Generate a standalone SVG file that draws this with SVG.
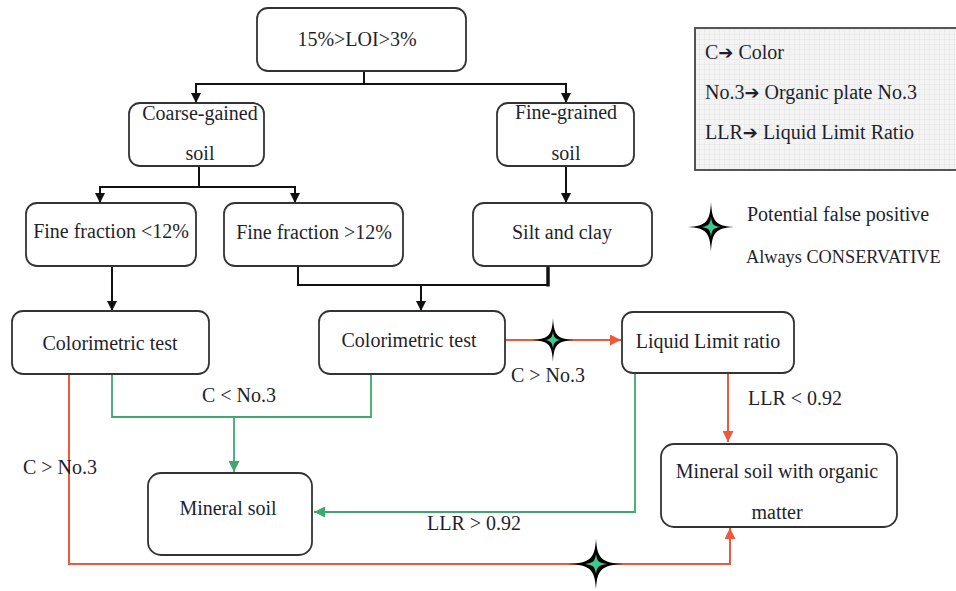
<svg xmlns="http://www.w3.org/2000/svg" width="956" height="591" viewBox="0 0 956 591">
<style>
.box{fill:#fff;stroke:#333;stroke-width:1.8}
.t{font-family:"Liberation Serif","Times New Roman",serif;font-size:20px;fill:#1f1f2e;text-anchor:middle}
.tl{font-family:"Liberation Serif","Times New Roman",serif;font-size:20px;fill:#1f1f2e}
.ar{font-family:"DejaVu Sans",sans-serif;font-size:18px;font-weight:bold}
.k{fill:none;stroke:#111;stroke-width:2}
.r{fill:none;stroke:#f0583a;stroke-width:2}
.g{fill:none;stroke:#3fa86c;stroke-width:1.8}
</style>
<defs>
<marker id="ak" viewBox="0 0 10 10" refX="10" refY="5" markerWidth="10" markerHeight="12" markerUnits="userSpaceOnUse" orient="auto"><path d="M0,0 L10,5 L0,10 z" fill="#111"/></marker>
<marker id="ar" viewBox="0 0 10 10" refX="10" refY="5" markerWidth="12" markerHeight="11" markerUnits="userSpaceOnUse" orient="auto"><path d="M0,0 L10,5 L0,10 z" fill="#f0583a"/></marker>
<marker id="ag" viewBox="0 0 10 10" refX="10" refY="5" markerWidth="12" markerHeight="11" markerUnits="userSpaceOnUse" orient="auto"><path d="M0,0 L10,5 L0,10 z" fill="#3fa86c"/></marker>
<pattern id="grid" width="5" height="5" patternUnits="userSpaceOnUse"><rect width="5" height="5" fill="#f4f4f4"/><path d="M5,0 V5 M0,5 H5" stroke="#dcdcdc" stroke-width="0.6"/></pattern>
<g id="star"><path d="M0,-1 C0.05,-0.2 0.2,-0.05 1,0 C0.2,0.05 0.05,0.2 0,1 C-0.05,0.2 -0.2,0.05 -1,0 C-0.2,-0.05 -0.05,-0.2 0,-1 z" fill="#000"/><path d="M0,-0.4 C0.04,-0.1 0.1,-0.04 0.4,0 C0.1,0.04 0.04,0.1 0,0.4 C-0.04,0.1 -0.1,0.04 -0.4,0 C-0.1,-0.04 -0.04,-0.1 0,-0.4 z" fill="#3cc88f"/></g>
</defs>
<rect width="956" height="591" fill="#fff"/>

<g id="legend">
<rect x="695" y="28" width="275" height="142" fill="url(#grid)" stroke="#555" stroke-width="2"/>
<text class="tl" x="705" y="59">C<tspan class="ar">➔</tspan> Color</text>
<text class="tl" x="705" y="99">No.3<tspan class="ar">➔</tspan> Organic plate No.3</text>
<text class="tl" x="705" y="139">LLR<tspan class="ar">➔</tspan> Liquid Limit Ratio</text>
</g>
<g id="star-legend">
<use href="#star" transform="translate(711,227) scale(23,25)"/>
<text class="tl" x="747" y="221">Potential false positive</text>
<text class="tl" x="746" y="263" style="font-size:18.3px">Always CONSERVATIVE</text>
</g>

<g id="connectors">
<path class="k" d="M364,71 V84 H196 V103" marker-end="url(#ak)"/>
<path class="k" d="M364,84 H566 V103" marker-end="url(#ak)"/>
<path class="k" d="M199,166 V187 H100 V203" marker-end="url(#ak)"/>
<path class="k" d="M199,187 H295 V203" marker-end="url(#ak)"/>
<path class="k" d="M566,166 V203" marker-end="url(#ak)"/>
<path class="k" d="M112,266 V311" marker-end="url(#ak)"/>
<path class="k" d="M298,266 V285 H548"/>
<path fill="none" stroke="#111" stroke-width="3.5" d="M548,266 V286.5"/>
<path class="k" d="M421,285 V311" marker-end="url(#ak)"/>
<path class="r" d="M505,340 H621" marker-end="url(#ar)"/>
<path class="r" d="M728,373 V442" marker-end="url(#ar)"/>
<path class="r" d="M69,374 V564 H730 V528" marker-end="url(#ar)"/>
<path class="g" d="M635,373 V512 H314" marker-end="url(#ag)"/>
<path class="g" d="M112,374 V417 H371 V374"/>
<path class="g" d="M234,417 V472" marker-end="url(#ag)"/>
<use href="#star" transform="translate(553,340) scale(21,22)"/>
<use href="#star" transform="translate(596,564) scale(28,25)"/>
<text class="t" x="239" y="402">C &lt; No.3</text>
<text class="t" x="60" y="474">C &gt; No.3</text>
<text class="t" x="548" y="382">C &gt; No.3</text>
<text class="t" x="795" y="405">LLR &lt; 0.92</text>
<text class="t" x="474" y="530">LLR &gt; 0.92</text>
</g>

<g id="n-loi"><rect class="box" x="257" y="8" width="209" height="63" rx="11"/><text class="t" x="357" y="46">15%&gt;LOI&gt;3%</text></g>
<g id="n-coarse"><rect class="box" x="129" y="103" width="135" height="63" rx="11"/><text class="t" x="200" y="120">Coarse-gained</text><text class="t" x="200" y="160">soil</text></g>
<g id="n-finegrained"><rect class="box" x="497" y="103" width="137" height="63" rx="11"/><text class="t" x="566" y="119">Fine-grained</text><text class="t" x="566" y="160">soil</text></g>
<g id="n-ff-lt"><rect class="box" x="26" y="203" width="170" height="63" rx="11"/><text class="t" x="111" y="238">Fine fraction &lt;12%</text></g>
<g id="n-ff-gt"><rect class="box" x="224" y="203" width="179" height="63" rx="11"/><text class="t" x="314" y="239">Fine fraction &gt;12%</text></g>
<g id="n-silt"><rect class="box" x="473" y="203" width="179" height="63" rx="11"/><text class="t" x="562" y="239">Silt and clay</text></g>
<g id="n-color1"><rect class="box" x="12" y="311" width="197" height="63" rx="11"/><text class="t" x="110" y="350">Colorimetric test</text></g>
<g id="n-color2"><rect class="box" x="319" y="311" width="186" height="63" rx="11"/><text class="t" x="409" y="347">Colorimetric test</text></g>
<g id="n-llr"><rect class="box" x="622" y="312" width="172" height="61" rx="11"/><text class="t" x="708" y="348">Liquid Limit ratio</text></g>
<g id="n-mineral"><rect class="box" x="148" y="473" width="164" height="82" rx="13"/><text class="t" x="228" y="515">Mineral soil</text></g>
<g id="n-mineral-org"><rect class="box" x="661" y="444" width="236" height="83" rx="13"/><text class="t" x="777" y="478">Mineral soil with organic</text><text class="t" x="777" y="519">matter</text></g>
</svg>
